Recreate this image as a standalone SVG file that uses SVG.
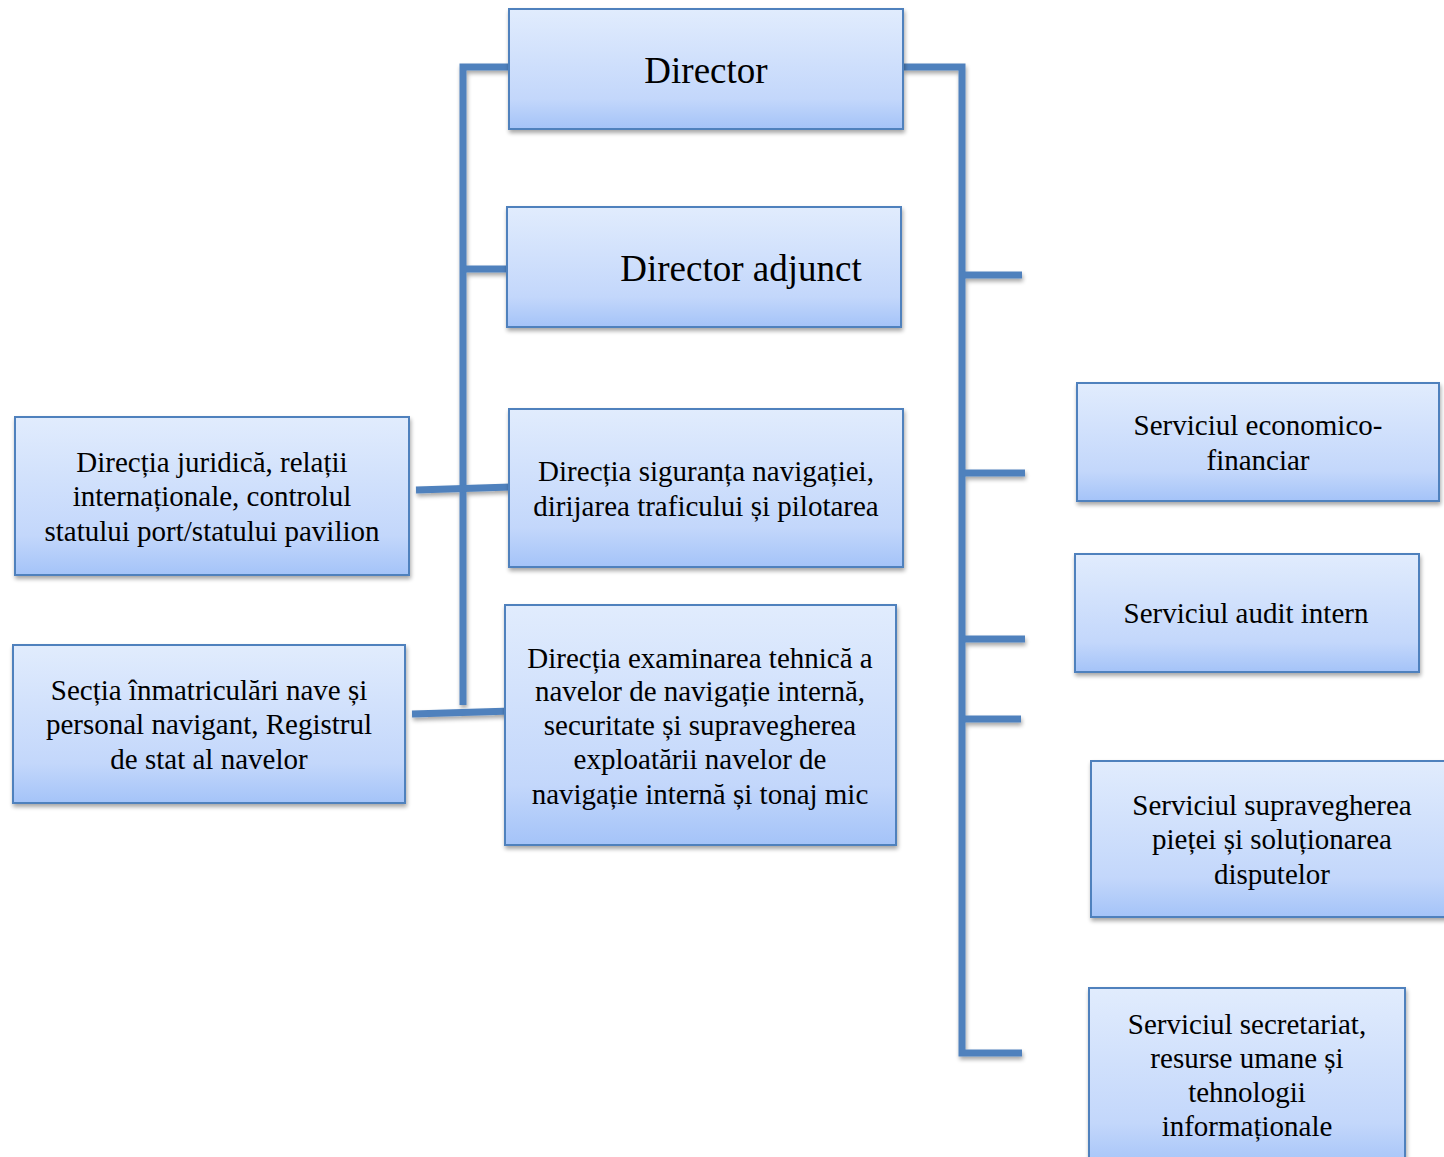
<svg xmlns="http://www.w3.org/2000/svg" width="1444" height="1157" viewBox="0 0 1444 1157">
<defs>
<linearGradient id="g" x1="0" y1="0" x2="0" y2="1">
<stop offset="0" stop-color="#E1ECFD"/>
<stop offset="0.75" stop-color="#C3D7FB"/>
<stop offset="1" stop-color="#A4C3F8"/>
</linearGradient>
<filter id="sh" filterUnits="userSpaceOnUse" x="0" y="0" width="1444" height="1157">
<feGaussianBlur in="SourceAlpha" stdDeviation="2"/>
<feOffset dx="1" dy="3" result="b"/>
<feComponentTransfer><feFuncA type="linear" slope="0.35"/></feComponentTransfer>
<feMerge><feMergeNode/><feMergeNode in="SourceGraphic"/></feMerge>
</filter>
</defs>
<style>
.box{fill:url(#g);stroke:#4F81BD;stroke-width:2;filter:url(#sh)}
.t{font-family:"Liberation Serif","Times New Roman",serif;font-size:29px;fill:#000;text-anchor:middle}
.big{font-size:37px}
.c{fill:none;stroke:#4F81BD;stroke-width:7;stroke-linejoin:miter}
</style>
<rect width="1444" height="1157" fill="#fff"/>
<g id="connectors" filter="url(#sh)">
<path class="c" d="M509 67 H463 V705"/>
<path class="c" d="M463 269 H507"/>
<path class="c" d="M903 67 H962 V1053 H1022"/>
<path class="c" d="M962 275 H1022"/>
<path class="c" d="M962 473 H1025"/>
<path class="c" d="M962 639 H1025"/>
<path class="c" d="M962 719 H1021"/>
<path class="c" d="M416 490 L511 487"/>
<path class="c" d="M412 714 L512 711"/>
</g>
<g id="director">
<rect class="box" x="509" y="9" width="394" height="120"/>
<text class="t big" x="706" y="83">Director</text>
</g>
<g id="director-adjunct">
<rect class="box" x="507" y="207" width="394" height="120"/>
<text class="t big" x="741" y="281">Director adjunct</text>
</g>
<g id="directia-siguranta">
<rect class="box" x="509" y="409" width="394" height="158"/>
<text class="t" x="706" y="481">Direcția siguranța navigației,</text>
<text class="t" x="706" y="516">dirijarea traficului și pilotarea</text>
</g>
<g id="directia-juridica">
<rect class="box" x="15" y="417" width="394" height="158"/>
<text class="t" x="212" y="472">Direcția juridică, relații</text>
<text class="t" x="212" y="506">internaționale, controlul</text>
<text class="t" x="212" y="541">statului port/statului pavilion</text>
</g>
<g id="sectia-inmatriculari">
<rect class="box" x="13" y="645" width="392" height="158"/>
<text class="t" x="209" y="700">Secția înmatriculări nave și</text>
<text class="t" x="209" y="734">personal navigant, Registrul</text>
<text class="t" x="209" y="769">de stat al navelor</text>
</g>
<g id="directia-examinarea">
<rect class="box" x="505" y="605" width="391" height="240"/>
<text class="t" x="700" y="668">Direcția examinarea tehnică a</text>
<text class="t" x="700" y="701">navelor de navigație internă,</text>
<text class="t" x="700" y="735">securitate și supravegherea</text>
<text class="t" x="700" y="769">exploatării navelor de</text>
<text class="t" x="700" y="804">navigație internă și tonaj mic</text>
</g>
<g id="serviciul-economico">
<rect class="box" x="1077" y="383" width="362" height="118"/>
<text class="t" x="1258" y="435">Serviciul economico-</text>
<text class="t" x="1258" y="470">financiar</text>
</g>
<g id="serviciul-audit">
<rect class="box" x="1075" y="554" width="344" height="118"/>
<text class="t" x="1246" y="623">Serviciul audit intern</text>
</g>
<g id="serviciul-supravegherea">
<rect class="box" x="1091" y="761" width="360" height="156"/>
<text class="t" x="1272" y="815">Serviciul supravegherea</text>
<text class="t" x="1272" y="849">pieței și soluționarea</text>
<text class="t" x="1272" y="884">disputelor</text>
</g>
<g id="serviciul-secretariat">
<rect class="box" x="1089" y="988" width="316" height="180"/>
<text class="t" x="1247" y="1034">Serviciul secretariat,</text>
<text class="t" x="1247" y="1068">resurse umane și</text>
<text class="t" x="1247" y="1102">tehnologii</text>
<text class="t" x="1247" y="1136">informaționale</text>
</g>
</svg>
